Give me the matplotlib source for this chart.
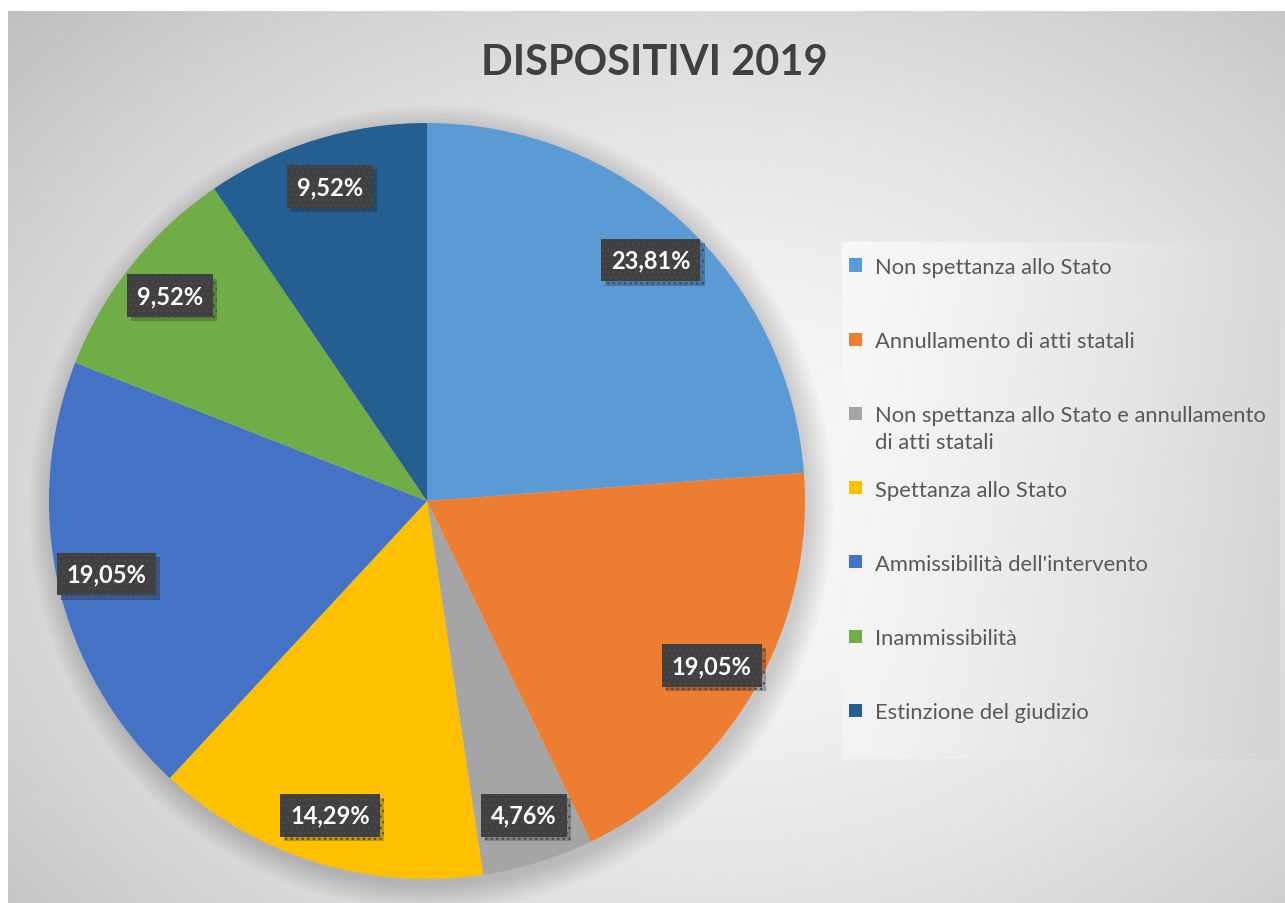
import numpy as np
import matplotlib.pyplot as plt
from matplotlib import patheffects as pe
from matplotlib.patches import Circle, Rectangle

plt.rcParams['font.family'] = ['Lato', 'DejaVu Sans']

categories = [
    'Non spettanza allo Stato',
    'Annullamento di atti statali',
    'Non spettanza allo Stato e annullamento\ndi atti statali',
    'Spettanza allo Stato',
    "Ammissibilità dell'intervento",
    'Inammissibilità',
    'Estinzione del giudizio',
]
percentages = [23.81, 19.05, 4.76, 14.29, 19.05, 9.52, 9.52]
colors = ['#5B9BD5', '#ED7D31', '#A5A5A5', '#FFC000', '#4472C4', '#70AD47', '#255E91']

W, H = 1285, 904
fig = plt.figure(figsize=(W / 100, H / 100), dpi=100)
fig.patch.set_facecolor('white')


def fx(x):
    return x / W


def fy(y):
    return 1 - y / H


# chart area with soft radial shading
bg = fig.add_axes([fx(8), 0, 1 - fx(8), 1 - 12 / H])
yy, xx = np.mgrid[0:1:300j, 0:1:400j]
r = np.sqrt(((xx - 0.55) / 0.7) ** 2 + ((yy - 0.45) / 0.75) ** 2)
shade = 0.975 - 0.2 * np.clip(r, 0, 1.2) ** 1.6
bg.imshow(shade, cmap='gray', vmin=0, vmax=1, extent=[0, 1, 0, 1],
          aspect='auto', origin='lower', interpolation='bicubic')
bg.axis('off')

# pie
cx, cy, rad = 427, 502, 378
ax = fig.add_axes([fx(cx - rad), fy(cy + rad), 2 * rad / W, 2 * rad / H])
for i in range(14):
    ax.add_patch(Circle((0.012, -0.018), 1 + 0.005 * i, color='black',
                        alpha=0.012, lw=0, zorder=0, clip_on=False))

wedges, texts, autotexts = ax.pie(
    percentages, colors=colors, startangle=90, counterclock=False,
    autopct=lambda p: f'{p:.2f}%'.replace('.', ','), pctdistance=0.87,
    wedgeprops=dict(linewidth=0))
for w in wedges:
    w.set_zorder(2)
for t in autotexts:
    t.set_color('white')
    t.set_fontsize(17)
    t.set_fontweight('bold')
    t.set_zorder(5)
    t.set_bbox(dict(boxstyle='square,pad=0.42', facecolor='#404040',
                    edgecolor='#4a4a4a', linewidth=0, hatch='...'))
    t.get_bbox_patch().set_path_effects([
        pe.SimplePatchShadow(offset=(3, -3), shadow_rgbFace='black', alpha=0.22),
        pe.Normal()])
ax.set_xlim(-1, 1)
ax.set_ylim(-1, 1)
ax.axis('off')

# legend panel
lx0, ly0, lx1, ly1 = 842, 243, 1280, 760
lg = fig.add_axes([fx(lx0), fy(ly1), (lx1 - lx0) / W, (ly1 - ly0) / H])
gy, gx = np.mgrid[0:1:100j, 0:1:200j]
grad = 0.97 - 0.12 * gx ** 1.3 - 0.02 * (1 - gy)
lg.imshow(grad, cmap='gray', vmin=0, vmax=1, extent=[0, 1, 0, 1],
          aspect='auto', origin='lower', interpolation='bicubic')
lg.axis('off')

line_h = 26.5
for i, (cat, col) in enumerate(zip(categories, colors)):
    yc = 266 + i * 74.2
    fig.patches.append(Rectangle((fx(849), fy(yc + 6.5)), 13 / W, 13 / H,
                                 transform=fig.transFigure, facecolor=col,
                                 edgecolor='none', zorder=5))
    # baseline anchors the last line, so push wrapped labels down
    extra = cat.count('\n') * line_h
    fig.text(fx(875), fy(yc + 8 + extra), cat, ha='left', va='baseline',
             fontsize=15.8, color='#595959', linespacing=1.4, zorder=5)

fig.text(fx(654), fy(63), 'DISPOSITIVI 2019', ha='center', va='center',
         fontsize=30, fontweight='bold', color='#404040')

fig.savefig('out.png', dpi=100)
